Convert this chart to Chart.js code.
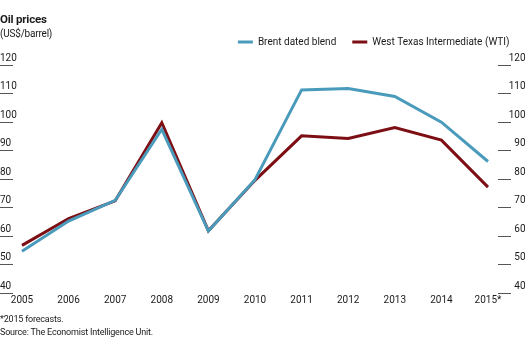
<!DOCTYPE html>
<html>
<head>
<meta charset="utf-8">
<script src="https://cdn.jsdelivr.net/npm/chart.js@4"></script>
<style>
  body { margin: 0; background: #fff; }
  #wrap { position: relative; width: 530px; height: 351px; font-family: Roboto, sans-serif; color: #1a1a1a; }
  #title { position: absolute; left: 0; top: 12px; font-size: 11.5px; font-weight: bold; letter-spacing: -0.2px; }
  #sub { position: absolute; left: 0; top: 28px; font-size: 10px; letter-spacing: -0.2px; }
  .note { position: absolute; left: 0; font-size: 9px; letter-spacing: -0.2px; }
  canvas { position: absolute; left: 0; top: 0; }
</style>
</head>
<body>
<div id="wrap">
  <canvas id="oilChart" width="530" height="351"></canvas>
  <div id="title">Oil prices</div>
  <div id="sub">(US$/barrel)</div>
  <div class="note" style="top:314px">*2015 forecasts.</div>
  <div class="note" style="top:327px">Source: The Economist Intelligence Unit.</div>
</div>
<script>
const years = ["2005", "2006", "2007", "2008", "2009", "2010", "2011", "2012", "2013", "2014", "2015*"];
const brent = [54.5, 65.1, 72.4, 97.3, 61.6, 79.6, 111.1, 111.6, 108.8, 99.8, 86.0];
const wti = [56.6, 66.0, 72.2, 99.6, 61.7, 79.4, 95.0, 94.1, 97.9, 93.5, 77.0];
const yTicks = [40, 50, 60, 70, 80, 90, 100, 110, 120];

const FONT = "Roboto, sans-serif";
const INK = "#1a1a1a";

// short rules under the value labels on both sides
const underlines = {
    id: "underlines",
    afterInit(chart) {
        // leave a gap between the legend row and the plot
        const fit = chart.legend.fit;
        chart.legend.fit = function () {
            fit.call(this);
            this.height += 7.5;
        };
    },
    afterDraw(chart) {
        const ctx = chart.ctx;
        const left = chart.scales.y;
        ctx.save();
        ctx.strokeStyle = "#555";
        ctx.lineWidth = 1;
        yTicks.forEach(v => {
            const py = Math.round(left.getPixelForValue(v)) + 0.5;
            ctx.beginPath();
            ctx.moveTo(0, py);
            ctx.lineTo(13, py);
            ctx.moveTo(498, py);
            ctx.lineTo(511, py);
            ctx.stroke();
        });
        ctx.restore();
    }
};

const tickFont = { family: FONT, size: 10 };

const ctx = document.getElementById("oilChart").getContext("2d");
new Chart(ctx, {
    type: "line",
    data: {
        labels: years,
        datasets: [{
            label: "Brent dated blend",
            data: brent,
            borderColor: "#4a9bbb",
            backgroundColor: "#4a9bbb",
            borderWidth: 3,
            pointRadius: 0,
            tension: 0,
            yAxisID: "y"
        }, {
            label: "West Texas Intermediate (WTI)",
            data: wti,
            borderColor: "#7d0f14",
            backgroundColor: "#7d0f14",
            borderWidth: 3,
            pointRadius: 0,
            tension: 0,
            yAxisID: "y",
            order: 1
        }]
    },
    options: {
        responsive: false,
        animation: false,
        layout: { padding: { left: 0, right: 4.5, top: 21, bottom: 42.3 } },
        plugins: {
            tooltip: { enabled: false },
            legend: {
                position: "top",
                align: "end",
                labels: {
                    boxWidth: 15,
                    boxHeight: 3,
                    padding: 16,
                    color: INK,
                    font: tickFont,
                    generateLabels(chart) {
                        return chart.data.datasets.map((ds, i) => ({
                            text: ds.label,
                            fillStyle: ds.borderColor,
                            strokeStyle: ds.borderColor,
                            lineWidth: 0,
                            fontColor: INK,
                            datasetIndex: i
                        }));
                    }
                }
            }
        },
        scales: {
            x: {
                offset: false,
                grid: { display: false, drawTicks: false },
                border: { display: false },
                ticks: { color: INK, font: tickFont, padding: 2, maxRotation: 0, autoSkip: false }
            },
            y: {
                position: "left",
                min: 40,
                max: 120,
                grid: { display: false, drawTicks: false },
                border: { display: false },
                ticks: { stepSize: 10, crossAlign: "far", padding: 5, labelOffset: -6.5, color: INK, font: tickFont },
                afterFit(s) { s.width = 22; }
            },
            y2: {
                position: "right",
                min: 40,
                max: 120,
                grid: { display: false, drawTicks: false },
                border: { display: false },
                ticks: { stepSize: 10, crossAlign: "far", padding: 6, labelOffset: -6.5, color: INK, font: tickFont },
                afterFit(s) { s.width = 37.5; }
            }
        }
    },
    plugins: [underlines]
});
</script>
</body>
</html>
